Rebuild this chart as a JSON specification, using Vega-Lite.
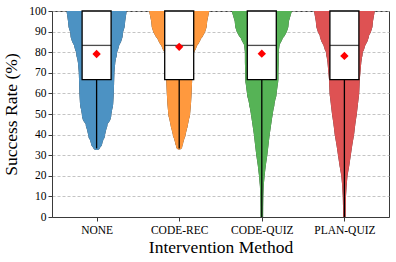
{
  "$schema": "https://vega.github.io/schema/vega-lite/v6.json",
  "width": 337,
  "height": 206,
  "autosize": {"type": "none"},
  "padding": {"left": 52, "top": 11, "right": 7, "bottom": 45},
  "background": "white",
  "config": {
    "font": "Liberation Serif",
    "view": {"stroke": "#3a3a3a", "strokeWidth": 1},
    "axis": {
      "labelFont": "Liberation Serif",
      "titleFont": "Liberation Serif",
      "labelColor": "black",
      "titleColor": "black",
      "titleFontWeight": "normal",
      "domainColor": "#3a3a3a",
      "tickColor": "#3a3a3a",
      "domainWidth": 1,
      "tickWidth": 1
    }
  },
  "datasets": {
    "violin": [
      {"method": "None", "rate": 100, "density": 0.97},
      {"method": "None", "rate": 95, "density": 0.92},
      {"method": "None", "rate": 90, "density": 0.85},
      {"method": "None", "rate": 85, "density": 0.73},
      {"method": "None", "rate": 80, "density": 0.65},
      {"method": "None", "rate": 75, "density": 0.59},
      {"method": "None", "rate": 70, "density": 0.56},
      {"method": "None", "rate": 65, "density": 0.55},
      {"method": "None", "rate": 60, "density": 0.54},
      {"method": "None", "rate": 55, "density": 0.52},
      {"method": "None", "rate": 50, "density": 0.46},
      {"method": "None", "rate": 45, "density": 0.33},
      {"method": "None", "rate": 40, "density": 0.25},
      {"method": "None", "rate": 36, "density": 0.16},
      {"method": "None", "rate": 34.3, "density": 0.09},
      {"method": "Code-Rec", "rate": 100, "density": 0.97},
      {"method": "Code-Rec", "rate": 95, "density": 0.9},
      {"method": "Code-Rec", "rate": 90, "density": 0.73},
      {"method": "Code-Rec", "rate": 85, "density": 0.57},
      {"method": "Code-Rec", "rate": 80, "density": 0.45},
      {"method": "Code-Rec", "rate": 75, "density": 0.42},
      {"method": "Code-Rec", "rate": 70, "density": 0.41},
      {"method": "Code-Rec", "rate": 66.7, "density": 0.4},
      {"method": "Code-Rec", "rate": 60, "density": 0.38},
      {"method": "Code-Rec", "rate": 55, "density": 0.36},
      {"method": "Code-Rec", "rate": 50, "density": 0.33},
      {"method": "Code-Rec", "rate": 45, "density": 0.26},
      {"method": "Code-Rec", "rate": 40, "density": 0.18},
      {"method": "Code-Rec", "rate": 36, "density": 0.1},
      {"method": "Code-Rec", "rate": 34.3, "density": 0.07},
      {"method": "Code-Quiz", "rate": 100, "density": 0.97},
      {"method": "Code-Quiz", "rate": 95, "density": 0.87},
      {"method": "Code-Quiz", "rate": 90, "density": 0.7},
      {"method": "Code-Quiz", "rate": 85, "density": 0.57},
      {"method": "Code-Quiz", "rate": 80, "density": 0.53},
      {"method": "Code-Quiz", "rate": 75, "density": 0.53},
      {"method": "Code-Quiz", "rate": 70, "density": 0.52},
      {"method": "Code-Quiz", "rate": 66.7, "density": 0.52},
      {"method": "Code-Quiz", "rate": 60, "density": 0.46},
      {"method": "Code-Quiz", "rate": 55, "density": 0.39},
      {"method": "Code-Quiz", "rate": 50, "density": 0.33},
      {"method": "Code-Quiz", "rate": 45, "density": 0.28},
      {"method": "Code-Quiz", "rate": 40, "density": 0.23},
      {"method": "Code-Quiz", "rate": 35, "density": 0.19},
      {"method": "Code-Quiz", "rate": 30, "density": 0.15},
      {"method": "Code-Quiz", "rate": 25, "density": 0.1},
      {"method": "Code-Quiz", "rate": 20, "density": 0.06},
      {"method": "Code-Quiz", "rate": 15, "density": 0.03},
      {"method": "Code-Quiz", "rate": 10, "density": 0.017},
      {"method": "Code-Quiz", "rate": 5, "density": 0.012},
      {"method": "Code-Quiz", "rate": 0, "density": 0.01},
      {"method": "Plan-Quiz", "rate": 100, "density": 0.98},
      {"method": "Plan-Quiz", "rate": 95, "density": 0.92},
      {"method": "Plan-Quiz", "rate": 90, "density": 0.8},
      {"method": "Plan-Quiz", "rate": 85, "density": 0.67},
      {"method": "Plan-Quiz", "rate": 80, "density": 0.58},
      {"method": "Plan-Quiz", "rate": 75, "density": 0.53},
      {"method": "Plan-Quiz", "rate": 70, "density": 0.5},
      {"method": "Plan-Quiz", "rate": 66.7, "density": 0.48},
      {"method": "Plan-Quiz", "rate": 60, "density": 0.46},
      {"method": "Plan-Quiz", "rate": 55, "density": 0.42},
      {"method": "Plan-Quiz", "rate": 50, "density": 0.38},
      {"method": "Plan-Quiz", "rate": 45, "density": 0.33},
      {"method": "Plan-Quiz", "rate": 40, "density": 0.29},
      {"method": "Plan-Quiz", "rate": 35, "density": 0.23},
      {"method": "Plan-Quiz", "rate": 30, "density": 0.18},
      {"method": "Plan-Quiz", "rate": 25, "density": 0.13},
      {"method": "Plan-Quiz", "rate": 20, "density": 0.07},
      {"method": "Plan-Quiz", "rate": 15, "density": 0.04},
      {"method": "Plan-Quiz", "rate": 10, "density": 0.02},
      {"method": "Plan-Quiz", "rate": 5, "density": 0.013},
      {"method": "Plan-Quiz", "rate": 0, "density": 0.01}
    ],
    "stats": [
      {"method": "None", "min": 33.3, "q1": 66.7, "median": 83.3, "q3": 100, "mean": 79.1},
      {"method": "Code-Rec", "min": 33.3, "q1": 66.7, "median": 83.3, "q3": 100, "mean": 82.6},
      {"method": "Code-Quiz", "min": 0, "q1": 66.7, "median": 83.3, "q3": 100, "mean": 79.3},
      {"method": "Plan-Quiz", "min": 0, "q1": 66.7, "median": 83.3, "q3": 100, "mean": 78.2}
    ]
  },
  "encoding": {
    "x": {
      "field": "method", "type": "nominal",
      "scale": {"type": "point", "padding": 0.54, "domain": ["None", "Code-Rec", "Code-Quiz", "Plan-Quiz"]},
      "axis": {"title": "Intervention Method", "titleFont": "Liberation Serif", "titleFontSize": 17.5, "labelFont": "Liberation Serif", "labelFontSize": 11.5, "labelAngle": 0, "labelExpr": "upper(datum.label)", "tickSize": 4, "labelPadding": 3, "titlePadding": 3, "grid": false}
    }
  },
  "layer": [
    {
      "data": {"name": "violin"},
      "mark": {"type": "trail", "color": "#3c3c3c", "clip": true, "opacity": 1},
      "encoding": {
        "y": {
          "field": "rate", "type": "quantitative",
          "scale": {"domain": [0, 100], "nice": false},
          "axis": {"title": "Success Rate (%)", "titleFont": "Liberation Serif", "titleFontSize": 17.5, "labelFont": "Liberation Serif", "labelFontSize": 11.5, "values": [0, 10, 20, 30, 40, 50, 60, 70, 80, 90, 100], "labelOverlap": false, "tickSize": 4, "labelPadding": 2, "titlePadding": 8, "grid": true, "gridDash": [3, 2], "gridColor": "#b5b5b5", "gridWidth": 0.8}
        },
        "size": {"field": "density", "type": "quantitative", "scale": {"domain": [0, 1], "range": [2, 62]}, "legend": null},
        "detail": {"field": "method", "type": "nominal"},
        "order": {"field": "rate", "type": "quantitative"}
      }
    },
    {
      "data": {"name": "violin"},
      "mark": {"type": "trail", "clip": true, "opacity": 1},
      "encoding": {
        "y": {"field": "rate", "type": "quantitative", "axis": {"title": "Success Rate (%)", "titleFont": "Liberation Serif", "titleFontSize": 17.5, "labelFont": "Liberation Serif", "labelFontSize": 11.5, "values": [0, 10, 20, 30, 40, 50, 60, 70, 80, 90, 100], "labelOverlap": false, "tickSize": 4, "labelPadding": 2, "titlePadding": 8, "grid": true, "gridDash": [3, 2], "gridColor": "#b5b5b5", "gridWidth": 0.8}},
        "size": {"field": "density", "type": "quantitative", "scale": {"domain": [0, 1], "range": [0, 60]}, "legend": null},
        "color": {"field": "method", "type": "nominal", "scale": {"domain": ["None", "Code-Rec", "Code-Quiz", "Plan-Quiz"], "range": ["#4c92c3", "#ff993e", "#56b356", "#de5253"]}, "legend": null},
        "order": {"field": "rate", "type": "quantitative"}
      }
    },
    {
      "data": {"name": "stats"},
      "mark": {"type": "rule", "color": "black", "strokeWidth": 1.3},
      "encoding": {
        "y": {"field": "min", "type": "quantitative", "axis": {"title": "Success Rate (%)", "titleFont": "Liberation Serif", "titleFontSize": 17.5, "labelFont": "Liberation Serif", "labelFontSize": 11.5, "values": [0, 10, 20, 30, 40, 50, 60, 70, 80, 90, 100], "labelOverlap": false, "tickSize": 4, "labelPadding": 2, "titlePadding": 8, "grid": true, "gridDash": [3, 2], "gridColor": "#b5b5b5", "gridWidth": 0.8}},
        "y2": {"field": "q1"}
      }
    },
    {
      "data": {"name": "stats"},
      "mark": {"type": "bar", "width": 29, "fill": "white", "stroke": "black", "strokeWidth": 1.3},
      "encoding": {
        "y": {"field": "q1", "type": "quantitative", "axis": {"title": "Success Rate (%)", "titleFont": "Liberation Serif", "titleFontSize": 17.5, "labelFont": "Liberation Serif", "labelFontSize": 11.5, "values": [0, 10, 20, 30, 40, 50, 60, 70, 80, 90, 100], "labelOverlap": false, "tickSize": 4, "labelPadding": 2, "titlePadding": 8, "grid": true, "gridDash": [3, 2], "gridColor": "#b5b5b5", "gridWidth": 0.8}},
        "y2": {"field": "q3"}
      }
    },
    {
      "data": {"name": "stats"},
      "mark": {"type": "tick", "color": "black", "size": 29, "thickness": 1.3, "orient": "horizontal"},
      "encoding": {
        "y": {"field": "median", "type": "quantitative", "axis": {"title": "Success Rate (%)", "titleFont": "Liberation Serif", "titleFontSize": 17.5, "labelFont": "Liberation Serif", "labelFontSize": 11.5, "values": [0, 10, 20, 30, 40, 50, 60, 70, 80, 90, 100], "labelOverlap": false, "tickSize": 4, "labelPadding": 2, "titlePadding": 8, "grid": true, "gridDash": [3, 2], "gridColor": "#b5b5b5", "gridWidth": 0.8}}
      }
    },
    {
      "data": {"name": "stats"},
      "mark": {"type": "point", "shape": "diamond", "filled": true, "color": "#ff0000", "size": 70, "opacity": 1},
      "encoding": {
        "y": {"field": "mean", "type": "quantitative", "axis": {"title": "Success Rate (%)", "titleFont": "Liberation Serif", "titleFontSize": 17.5, "labelFont": "Liberation Serif", "labelFontSize": 11.5, "values": [0, 10, 20, 30, 40, 50, 60, 70, 80, 90, 100], "labelOverlap": false, "tickSize": 4, "labelPadding": 2, "titlePadding": 8, "grid": true, "gridDash": [3, 2], "gridColor": "#b5b5b5", "gridWidth": 0.8}}
      }
    }
  ]
}
